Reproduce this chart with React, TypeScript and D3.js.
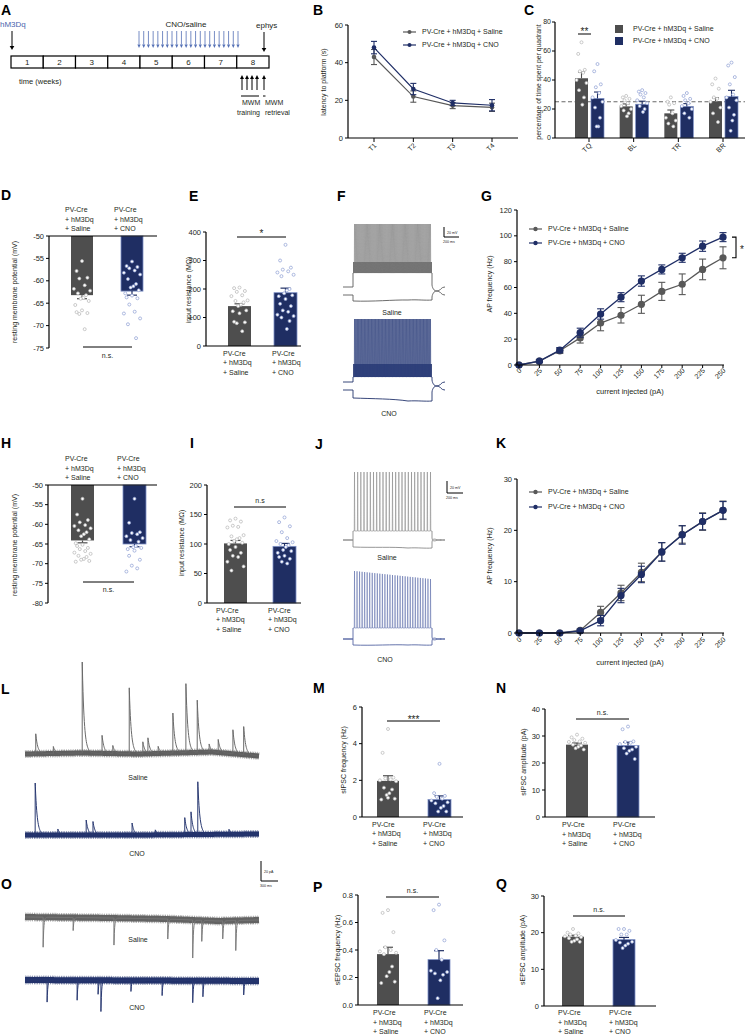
import React from 'react';
import * as d3 from 'd3';

const FONT = "'Liberation Sans', Arial, Helvetica, sans-serif";
const TXT = '#231f20';
const SAL = '#4e4e4e';
const CNO = '#1f2e63';
const CNO_EDGE = '#7d90c6';
const DOT_SAL = '#b4b4b4';
const DOT_CNO = '#8c9dd2';
const LINE_SAL = '#585858';
const LINE_CNO = '#1f2e66';

// ---------- A ----------
const weeks = ['1', '2', '3', '4', '5', '6', '7', '8'];
const cnoInjections = 22;
const trainingDays = 4;

// ---------- B ----------
const trials = ['T1', 'T2', 'T3', 'T4'];
const latencySaline = [43, 22, 17.2, 16.3];
const latencySalineErr = [4, 3, 1.6, 2.2];
const latencyCno = [48, 26, 18.6, 17.4];
const latencyCnoErr = [3.3, 3, 1.4, 3];
const latencyTicks = [0, 20, 40, 60];

// ---------- C ----------
const quadrants = ['TQ', 'BL', 'TR', 'BR'];
const quadSaline = [41.2, 21.8, 17, 25.3];
const quadSalineErr = [4.3, 1.7, 2.3, 2.4];
const quadCno = [27.3, 23.3, 21.8, 28.6];
const quadCnoErr = [4.4, 2.1, 1.9, 4.3];
const quadSalineDots = [
  [66, 58, 47, 46, 45, 40, 38, 33, 28, 23],
  [29, 28, 27, 26, 24, 22, 20, 19, 17, 15],
  [28, 25, 24, 23, 17, 14, 12, 10, 8],
  [41, 37, 34, 28, 27, 25, 21, 17, 11],
];
const quadCnoDots = [
  [51, 46, 37, 35, 31, 28, 25, 21, 14, 8, 8],
  [33, 32, 31, 30, 28, 26, 24, 22, 20, 18],
  [31, 29, 27, 26, 24, 22, 20, 17, 14],
  [52, 50, 42, 37, 30, 28, 26, 21, 16, 12, 5],
];
const quadTicks = [0, 20, 40, 60, 80];
const chanceLevel = 25;

const groupLabels = [
  ['PV-Cre', '+ hM3Dq', '+ Saline'],
  ['PV-Cre', '+ hM3Dq', '+ CNO'],
];
const legendSaline = 'PV-Cre + hM3Dq + Saline';
const legendCno = 'PV-Cre + hM3Dq + CNO';

// ---------- D ----------
const rmpD = [-63.2, -62.3];
const rmpDErr = [0.8, 0.9];
const rmpDSalineDots = [-55.6, -57.8, -59.3, -59.5, -61.0, -61.8, -62.2, -62.8, -63.2, -63.8, -64.0, -64.5, -65.4, -66.6, -67.0, -67.2, -67.4, -70.8];
const rmpDCnoDots = [-55.7, -56.7, -56.9, -57.2, -57.7, -58.2, -58.6, -59.6, -60.7, -61.2, -61.5, -62.1, -62.8, -63.3, -63.7, -63.9, -65.3, -66.9, -67.3, -68.4, -69.7, -72.8];
const rmpDTicks = [-50, -55, -60, -65, -70, -75];

// ---------- E ----------
const irE = [140, 187];
const irEErr = [8, 16];
const irESalineDots = [205, 203, 193, 190, 178, 175, 160, 158, 153, 145, 140, 125, 122, 115, 85, 83, 80, 52];
const irECnoDots = [355, 300, 275, 268, 262, 258, 250, 245, 200, 195, 185, 178, 175, 165, 148, 140, 125, 120, 110, 105, 100, 88, 60];
const irETicks = [0, 100, 200, 300, 400];

// ---------- G ----------
const currents = [0, 25, 50, 75, 100, 125, 150, 175, 200, 225, 250];
const apSalineG = [0, 3, 11, 21, 32.5, 38.5, 47, 57, 62.5, 74, 83];
const apSalineGErr = [0, 1, 2, 4, 6, 6, 7, 7, 8, 8, 8.5];
const apCnoG = [0, 3, 11.5, 25, 39.5, 52.5, 65, 74, 83, 92, 99];
const apCnoGErr = [0, 1, 2, 3.5, 4, 3.5, 4, 3.5, 3.5, 4, 3.5];
const apGTicks = [0, 20, 40, 60, 80, 100, 120];

// ---------- F / J spike counts ----------
const fSalineSpikes = 83;
const fCnoSpikes = 99;
const jSalineSpikes = 25;
const jCnoSpikes = 31;

// ---------- H ----------
const rmpH = [-64.1, -65.0];
const rmpHErr = [0.6, 0.7];
const rmpHSalineDots = [-53.5, -57.5, -58.9, -59.5, -60.2, -60.4, -61.0, -61.5, -62.0, -62.5, -63.0, -63.8, -64.8, -65.2, -65.5, -66.0, -66.3, -66.8, -67.2, -67.5, -68.0, -68.3, -68.8, -69.0, -69.3, -69.5];
const rmpHCnoDots = [-53.5, -59.6, -62.0, -62.2, -62.5, -63.0, -63.5, -64.0, -64.4, -65.5, -65.8, -66.0, -66.3, -66.7, -68.0, -69.0, -70.5, -71.2, -72.0];
const rmpHTicks = [-50, -55, -60, -65, -70, -75, -80];

// ---------- I ----------
const irI = [101, 96];
const irIErr = [5, 5];
const irISalineDots = [143, 140, 138, 131, 129, 128, 115, 113, 110, 108, 105, 102, 100, 95, 90, 85, 80, 78, 70, 62, 55];
const irICnoDots = [145, 137, 130, 120, 110, 105, 103, 100, 98, 95, 90, 88, 85, 80, 78, 75, 70, 67];
const irITicks = [0, 50, 100, 150, 200];

// ---------- K ----------
const apSalineK = [0, 0, 0, 0.5, 4, 7.8, 11.8, 15.8, 19.2, 21.7, 23.9];
const apSalineKErr = [0, 0, 0, 0.3, 1.2, 1.5, 1.8, 1.8, 1.7, 1.7, 1.8];
const apCnoK = [0, 0, 0, 0.4, 2.4, 7.3, 11.4, 15.8, 19.1, 21.7, 23.9];
const apCnoKErr = [0, 0, 0, 0.3, 1, 1.4, 1.6, 1.8, 1.8, 1.6, 1.7];
const apKTicks = [0, 10, 20, 30];

// ---------- L / O traces: [time (s), amplitude (pA)] ----------
const sweepSeconds = 4.13;
const lSalineEvents = [[0.19, 20], [0.5, 7], [1.01, 91], [1.36, 18], [1.55, 8], [1.84, 66], [2.08, 12], [2.17, 15], [2.35, 7], [2.61, 40], [2.84, 69], [3.04, 52], [3.25, 8], [3.41, 13], [3.67, 24], [3.86, 28]];
const lSalineDrift = [[0, 0], [1.0, 1], [2.0, 0], [3.3, 2], [4.13, -2]];
const lCnoEvents = [[0.18, 52], [0.58, 6], [1.08, 15], [1.2, 13], [1.89, 12], [2.3, 5], [2.82, 17], [2.93, 22], [3.05, 52], [3.6, 5]];
const lCnoDrift = [[0, 0], [2.0, 0], [4.13, 1]];
const oSalineEvents = [[0.32, 30], [0.85, 13], [1.57, 27], [2.52, 20], [2.96, 38], [3.12, 21], [3.49, 18], [3.72, 30]];
const oSalineDrift = [[0, 0], [1.5, 1], [2.5, 2], [3.4, 4], [4.13, 3]];
const oCnoEvents = [[0.39, 22], [0.92, 20], [1.29, 14], [1.34, 31], [1.87, 11], [2.42, 15], [2.96, 22], [3.14, 16], [3.86, 14]];
const oCnoDrift = [[0, 0], [4.13, 1]];

// ---------- M / N / P / Q ----------
const sipscFreq = [1.97, 0.95];
const sipscFreqErr = [0.28, 0.2];
const sipscFreqSalineDots = [4.8, 3.5, 2.15, 2.1, 2.05, 2.0, 1.95, 1.6, 1.5, 1.3, 1.2, 1.0, 0.95, 1.05];
const sipscFreqCnoDots = [2.9, 1.3, 1.15, 1.1, 1.0, 0.9, 0.8, 0.75, 0.6, 0.5, 0.3, 0.3];
const sipscFreqTicks = [0, 2, 4, 6];

const sipscAmp = [26.8, 26.5];
const sipscAmpErr = [0.6, 1.2];
const sipscAmpSalineDots = [30.5, 29.5, 29, 28.5, 28, 27.8, 27.5, 26.8, 26.5, 26, 25.5, 25];
const sipscAmpCnoDots = [33.5, 32.5, 28, 27.8, 27.5, 27, 26, 25.5, 25, 24.5, 23.5, 21.5];
const sipscAmpTicks = [0, 10, 20, 30, 40];

const sepscFreq = [0.37, 0.33];
const sepscFreqErr = [0.05, 0.065];
const sepscFreqSalineDots = [0.69, 0.67, 0.53, 0.42, 0.40, 0.39, 0.38, 0.37, 0.28, 0.24, 0.21, 0.17, 0.16];
const sepscFreqCnoDots = [0.73, 0.69, 0.47, 0.40, 0.33, 0.25, 0.24, 0.23, 0.22, 0.18, 0.05];
const sepscFreqTicks = [0, 0.2, 0.4, 0.6, 0.8];

const sepscAmp = [18.9, 18.1];
const sepscAmpErr = [0.4, 0.6];
const sepscAmpSalineDots = [21, 20, 19.8, 19.5, 19.2, 19, 18.8, 18.5, 18.2, 17.8, 17.5, 17.5];
const sepscAmpCnoDots = [21, 21, 20.5, 19.5, 19.5, 18, 17.5, 17.3, 17, 16.5, 15.8];
const sepscAmpTicks = [0, 10, 20, 30];

// ================= helpers =================
const JIT = [0, -0.6, 0.6, -0.3, 0.3, -0.9, 0.9, -0.45, 0.45, 0.15, -0.15, 0.75, -0.75];
const jitter = (i: number, spread: number) => JIT[i % JIT.length] * spread;

function Letter({ x, y, t }: { x: number; y: number; t: string }) {
  return <text x={x} y={y} fontSize={14} fontWeight="bold" fill="#000">{t}</text>;
}

function Arrow({ x, y1, y2, color, hw = 2.5, hl = 4, sw = 1 }: any) {
  const dir = Math.sign(y2 - y1);
  const yb = y2 - dir * hl;
  return (
    <g>
      <line x1={x} x2={x} y1={y1} y2={yb} stroke={color} strokeWidth={sw} />
      <path d={`M${x - hw},${yb} L${x + hw},${yb} L${x},${y2} Z`} fill={color} />
    </g>
  );
}

function YAxis({ x, scale, ticks, fmt, size = 7.5, gap = 5 }: any) {
  const r = scale.range();
  return (
    <g>
      <line x1={x} x2={x} y1={r[0]} y2={r[1]} stroke="#000" strokeWidth={1.2} />
      {ticks.map((t: number) => (
        <g key={t}>
          <line x1={x - 3} x2={x} y1={scale(t)} y2={scale(t)} stroke="#000" strokeWidth={1} />
          <text x={x - gap} y={scale(t)} dy="0.35em" textAnchor="end" fontSize={size} fill={TXT}>
            {fmt ? fmt(t) : String(t)}
          </text>
        </g>
      ))}
    </g>
  );
}

function VTitle({ x, y, text, size = 7 }: any) {
  return (
    <text transform={`translate(${x},${y}) rotate(-90)`} textAnchor="middle" fontSize={size} fill={TXT}>
      {text}
    </text>
  );
}

function GroupLabel({ x, y, lines }: any) {
  return (
    <g>
      {lines.map((l: string, i: number) => (
        <text key={i} x={x} y={y + i * 9.5} fontSize={7} fill={TXT}>{l}</text>
      ))}
    </g>
  );
}

function Dots({ cx, vals, scale, color, spread, r = 1.5 }: any) {
  return (
    <g>
      {vals.map((v: number, i: number) => (
        <circle key={i} cx={cx + jitter(i, spread)} cy={scale(v)} r={r} fill="#fff" stroke={color} strokeWidth={0.7} />
      ))}
    </g>
  );
}

function ErrBar({ x, y1, y2, color, cap = 4, sw = 1 }: any) {
  return (
    <g stroke={color} strokeWidth={sw}>
      <line x1={x} x2={x} y1={y1} y2={y2} />
      <line x1={x - cap} x2={x + cap} y1={y2} y2={y2} />
    </g>
  );
}

type BarPanelProps = {
  axisX: number; axisEnd: number; domain: [number, number]; range: [number, number]; ticks: number[];
  fmt?: (v: number) => string; hanging?: boolean; means: number[]; errs: number[]; dots: number[][];
  barX: [number, number][]; title: string; titleX: number; titleY: number;
  labelX: number[]; labelY: number; sig: { text: string; x1: number; x2: number; y: number; ty: number; size: number };
};

function BarPanel(p: BarPanelProps) {
  const y = d3.scaleLinear().domain(p.domain).range(p.range);
  const base = p.hanging ? p.domain[1] : p.domain[0];
  const fills = [SAL, CNO];
  const dotC = [DOT_SAL, DOT_CNO];
  return (
    <g>
      {p.means.map((m, i) => {
        const [x1, x2] = p.barX[i];
        const yTop = Math.min(y(base), y(m));
        const h = Math.abs(y(base) - y(m));
        const errEnd = p.hanging ? m - p.errs[i] : m + p.errs[i];
        return (
          <g key={i}>
            <rect x={x1} y={yTop} width={x2 - x1} height={h} fill={fills[i]} stroke={i === 1 ? CNO_EDGE : 'none'} strokeWidth={0.8} />
            <ErrBar x={(x1 + x2) / 2} y1={y(m)} y2={y(errEnd)} color={fills[i]} cap={5} sw={1.2} />
            <Dots cx={(x1 + x2) / 2} vals={p.dots[i]} scale={y} color={dotC[i]} spread={9} />
          </g>
        );
      })}
      <YAxis x={p.axisX} scale={y} ticks={p.ticks} fmt={p.fmt} />
      <line x1={p.axisX} x2={p.axisEnd} y1={y(base)} y2={y(base)} stroke="#000" strokeWidth={1.2} />
      <VTitle x={p.titleX} y={p.titleY} text={p.title} />
      {p.labelX.map((lx, i) => (
        <GroupLabel key={i} x={lx} y={p.labelY} lines={groupLabels[i]} />
      ))}
      <line x1={p.sig.x1} x2={p.sig.x2} y1={p.sig.y} y2={p.sig.y} stroke="#000" strokeWidth={1} />
      <text x={(p.sig.x1 + p.sig.x2) / 2} y={p.sig.ty} textAnchor="middle" fontSize={p.sig.size} fill={TXT}>{p.sig.text}</text>
    </g>
  );
}

function Legend({ x, y1, y2, r = 2.2 }: any) {
  return (
    <g fontSize={7} fill={TXT}>
      <line x1={x} x2={x + 13} y1={y1} y2={y1} stroke={LINE_SAL} strokeWidth={1.2} />
      <circle cx={x + 6.5} cy={y1} r={r} fill={LINE_SAL} />
      <text x={x + 19} y={y1} dy="0.35em">{legendSaline}</text>
      <line x1={x} x2={x + 13} y1={y2} y2={y2} stroke={LINE_CNO} strokeWidth={1.2} />
      <circle cx={x + 6.5} cy={y2} r={r} fill={LINE_CNO} />
      <text x={x + 19} y={y2} dy="0.35em">{legendCno}</text>
    </g>
  );
}

function Series({ xs, vals, errs, x, y, color, r, cap, sw = 1.3 }: any) {
  const pts = vals.map((v: number, i: number) => [x(xs[i]), y(v)]);
  return (
    <g>
      <path d={d3.line()(pts) || ''} fill="none" stroke={color} strokeWidth={sw} />
      {vals.map((v: number, i: number) =>
        errs[i] > 0 ? (
          <g key={i} stroke={color} strokeWidth={1.1}>
            <line x1={x(xs[i])} x2={x(xs[i])} y1={y(v - errs[i])} y2={y(v + errs[i])} />
            <line x1={x(xs[i]) - cap} x2={x(xs[i]) + cap} y1={y(v + errs[i])} y2={y(v + errs[i])} />
            <line x1={x(xs[i]) - cap} x2={x(xs[i]) + cap} y1={y(v - errs[i])} y2={y(v - errs[i])} />
          </g>
        ) : null
      )}
      {vals.map((v: number, i: number) => (
        <circle key={'c' + i} cx={x(xs[i])} cy={y(v)} r={r} fill={color} />
      ))}
    </g>
  );
}

function CurvePanel({ yDomain, yRange, yTicks, sal, salErr, cno, cnoErr, legendY, titleY, xTitleY, tickY }: any) {
  const x = d3.scaleLinear().domain([0, 250]).range([519, 723]);
  const y = d3.scaleLinear().domain(yDomain).range(yRange);
  const y0 = yRange[0];
  return (
    <g>
      <Series xs={currents} vals={sal} errs={salErr} x={x} y={y} color={LINE_SAL} r={3.6} cap={3.5} />
      <Series xs={currents} vals={cno} errs={cnoErr} x={x} y={y} color={LINE_CNO} r={3.6} cap={3.5} />
      <YAxis x={517} scale={y} ticks={yTicks} />
      <line x1={517} x2={724} y1={y0} y2={y0} stroke="#000" strokeWidth={1.2} />
      {currents.map((c: number) => (
        <g key={c}>
          <line x1={x(c)} x2={x(c)} y1={y0} y2={y0 + 3} stroke="#000" strokeWidth={1} />
          <text transform={`translate(${x(c) + 3},${tickY}) rotate(-45)`} textAnchor="end" fontSize={7} fill={TXT}>{c}</text>
        </g>
      ))}
      <text x={630} y={xTitleY} textAnchor="middle" fontSize={7.5} fill={TXT}>current injected (pA)</text>
      <VTitle x={492} y={titleY} text="AP frequency (Hz)" />
      <Legend x={529} y1={legendY[0]} y2={legendY[1]} r={2.2} />
    </g>
  );
}

// ---- step-current traces (F, J) ----
function StepTrace({ color, spikeColor, spikes, base1, base2, plateau, top, topEnd, bottom, bottomEnd, band, sw = 0.8 }: any) {
  const x0 = 343, s0 = 353, s1 = 432, x1 = 445;
  const sx = d3.scaleLinear().domain([0, spikes - 1]).range([s0 + 1.5, s1 - 1.5]);
  const tops = d3.scaleLinear().domain([0, spikes - 1]).range([top, topEnd ?? top]);
  let up = `M${s0},${plateau}`;
  for (let i = 0; i < spikes; i++) {
    up += ` H${sx(i) - 0.25} L${sx(i)},${tops(i)} L${sx(i) + 0.3},${plateau}`;
  }
  up += ` H${s1}`;
  const mid = (base1 + base2) / 2;
  const upperFrame = `M${x0},${base1} H${s0} V${plateau} M${s1},${plateau} V${base1 - 2} C${s1 + 0.5},${base1 + 2} ${s1 + 3},${mid + 1} ${s1 + 6},${mid} S${s1 + 9},${base1} ${x1},${base1}`;
  const be = bottomEnd ?? bottom;
  const down = `M${x0},${base2} H${s0} V${bottom} C${s0 + 20},${bottom + 0.8} ${s0 + 40},${(bottom + be) / 2 - 0.8} ${s0 + 55},${be} C${s0 + 65},${be - 0.6} ${s0 + 72},${be + 0.6} ${s1},${be} V${base2 + 2} C${s1 + 0.5},${base2 - 2} ${s1 + 3},${mid - 1} ${s1 + 6},${mid} S${s1 + 9},${base2} ${x1},${base2}`;
  return (
    <g fill="none">
      {band ? <rect x={s0} y={band[0]} width={s1 - s0} height={band[1] - band[0]} fill={color} opacity={0.85} /> : null}
      <path d={up} stroke={spikeColor} strokeWidth={sw} />
      <path d={upperFrame} stroke={color} strokeWidth={0.9} />
      <path d={down} stroke={color} strokeWidth={0.9} />
    </g>
  );
}

function ScaleBar({ x, y1, y2, x2, l1, l2, size = 3.6 }: any) {
  return (
    <g>
      <path d={`M${x},${y1} V${y2} H${x2}`} fill="none" stroke="#000" strokeWidth={1} />
      <text x={x + 3} y={(y1 + y2) / 2 + 1.5} fontSize={size} fill={TXT}>{l1}</text>
      <text x={x - 1} y={y2 + 5.5} fontSize={size} fill={TXT}>{l2}</text>
    </g>
  );
}

// ---- synaptic current traces (L, O) ----
const tScale = d3.scaleLinear().domain([0, sweepSeconds]).range([25, 259]);
function tracePath(y0: number, drift: number[][], events: number[][], dir: number, tau: number) {
  const dr = d3.scaleLinear().domain(drift.map(d => d[0])).range(drift.map(d => d[1]));
  const n = Math.round((tScale(sweepSeconds) - tScale(0)) * 3);
  const ts: number[] = [];
  for (let i = 0; i <= n; i++) ts.push((sweepSeconds * i) / n);
  events.forEach(e => { ts.push(e[0] - 0.0005); ts.push(e[0]); });
  ts.sort((a, b) => a - b);
  const pts: [number, number][] = ts.map(t => {
    let e = 0;
    for (const ev of events) if (t >= ev[0]) e += ev[1] * Math.exp(-(t - ev[0]) / tau);
    return [tScale(t), y0 - dir * (dr(t) + e)];
  });
  return d3.line()(pts) || '';
}

function SynTrace({ y0, drift, events, dir, tau, color, band, bandColor }: any) {
  const base = tracePath(y0, drift, [], dir, tau);
  return (
    <g fill="none">
      <path d={base} stroke={bandColor} strokeWidth={band} strokeLinecap="butt" />
      <path d={base} stroke={bandColor} strokeWidth={band + 3} strokeDasharray="0.5 1.3" opacity={0.75} />
      <path d={base} stroke={bandColor} strokeWidth={band + 1.5} strokeDasharray="0.7 0.9" strokeDashoffset={0.6} opacity={0.6} />
      <path d={tracePath(y0, drift, events, dir, tau)} stroke={color} strokeWidth={1} />
    </g>
  );
}

// ================= panels =================
function PanelA() {
  const x = d3.scaleBand().domain(weeks).range([11, 269]);
  const inj = d3.scaleLinear().domain([0, cnoInjections - 1]).range([139, 238]);
  const train = d3.scaleLinear().domain([0, trainingDays - 1]).range([242, 257]);
  const blue = '#5470b5';
  return (
    <g>
      <Letter x={1} y={15} t="A" />
      <text x={0} y={27} fontSize={8} fill="#4a64ad">hM3Dq</text>
      <Arrow x={12} y1={31} y2={50} color="#000" hw={2.3} hl={4} />
      <text x={186} y={27} fontSize={8} textAnchor="middle" fill={TXT}>CNO/saline</text>
      {d3.range(cnoInjections).map(i => (
        <Arrow key={i} x={inj(i)} y1={31} y2={48} color={blue} hw={1.6} hl={3.5} sw={0.8} />
      ))}
      <text x={256} y={28} fontSize={8} fill={TXT}>ephys</text>
      <Arrow x={264} y1={32} y2={52} color="#000" hw={2.3} hl={4} />
      {weeks.map(w => (
        <g key={w}>
          <rect x={x(w)} y={56} width={x.bandwidth()} height={12} fill="#fff" stroke="#000" strokeWidth={1.2} />
          <text x={(x(w) as number) + x.bandwidth() / 2} y={65} fontSize={8} textAnchor="middle" fill={TXT}>{w}</text>
        </g>
      ))}
      <text x={19} y={84} fontSize={7.5} fill={TXT}>time (weeks)</text>
      {d3.range(trainingDays).map(i => (
        <Arrow key={i} x={train(i)} y1={90} y2={75} color="#000" hw={2} hl={4} sw={1} />
      ))}
      <Arrow x={264} y1={90} y2={75} color="#000" hw={2} hl={4} sw={1} />
      <line x1={241} x2={259} y1={96} y2={96} stroke="#000" strokeWidth={1} />
      <line x1={263} x2={265.5} y1={96} y2={96} stroke="#000" strokeWidth={1} />
      <text x={242} y={105} fontSize={7} fill={TXT}>MWM</text>
      <text x={237} y={115} fontSize={7} fill={TXT}>training</text>
      <text x={265} y={105} fontSize={7} fill={TXT}>MWM</text>
      <text x={265} y={115} fontSize={7} fill={TXT}>retrieval</text>
    </g>
  );
}

function PanelB() {
  const x = d3.scalePoint().domain(trials).range([374, 492]);
  const y = d3.scaleLinear().domain([0, 60]).range([138, 25]);
  return (
    <g>
      <Letter x={313} y={15} t="B" />
      <Series xs={trials} vals={latencySaline} errs={latencySalineErr} x={x} y={y} color={LINE_SAL} r={2.3} cap={3} sw={1.2} />
      <Series xs={trials} vals={latencyCno} errs={latencyCnoErr} x={x} y={y} color={LINE_CNO} r={2.3} cap={3} sw={1.2} />
      <YAxis x={348} scale={y} ticks={latencyTicks} />
      <line x1={348} x2={518} y1={138} y2={138} stroke="#000" strokeWidth={1.2} />
      {trials.map(t => (
        <g key={t}>
          <line x1={x(t)} x2={x(t)} y1={138} y2={142} stroke="#000" strokeWidth={1} />
          <text transform={`translate(${(x(t) as number) + 3},${146}) rotate(-45)`} textAnchor="end" fontSize={7} fill={TXT}>{t}</text>
        </g>
      ))}
      <VTitle x={326} y={82} text="latency to platform (s)" />
      <Legend x={403} y1={32} y2={45} r={2} />
    </g>
  );
}

function PanelC() {
  const x = d3.scalePoint().domain(quadrants).range([589, 723]);
  const y = d3.scaleLinear().domain([0, 80]).range([138, 22]);
  return (
    <g>
      <Letter x={524} y={15} t="C" />
      <line x1={555} x2={745} y1={y(chanceLevel)} y2={y(chanceLevel)} stroke="#555" strokeWidth={0.9} strokeDasharray="4,2.5" />
      {quadrants.map((q, i) => {
        const c = x(q) as number;
        return (
          <g key={q}>
            <rect x={c - 14} y={y(quadSaline[i])} width={13} height={138 - y(quadSaline[i])} fill={SAL} />
            <rect x={c + 2} y={y(quadCno[i])} width={13} height={138 - y(quadCno[i])} fill={CNO} stroke={CNO_EDGE} strokeWidth={0.7} />
            <ErrBar x={c - 7.5} y1={y(quadSaline[i])} y2={y(quadSaline[i] + quadSalineErr[i])} color={SAL} cap={3.5} sw={1.1} />
            <ErrBar x={c + 8.5} y1={y(quadCno[i])} y2={y(quadCno[i] + quadCnoErr[i])} color={CNO} cap={3.5} sw={1.1} />
            <Dots cx={c - 7.5} vals={quadSalineDots[i]} scale={y} color={DOT_SAL} spread={5.5} r={1.5} />
            <Dots cx={c + 8.5} vals={quadCnoDots[i]} scale={y} color={DOT_CNO} spread={5.5} r={1.5} />
            <line x1={c} x2={c} y1={138} y2={142} stroke="#000" strokeWidth={1} />
            <text transform={`translate(${c + 3},${146}) rotate(-45)`} textAnchor="end" fontSize={7} fill={TXT}>{q}</text>
          </g>
        );
      })}
      <YAxis x={555} scale={y} ticks={quadTicks} size={7} gap={4} />
      <line x1={555} x2={745} y1={138} y2={138} stroke="#000" strokeWidth={1.2} />
      <VTitle x={541} y={82} text="percentage of time spent per quadrant" size={6.8} />
      <line x1={578} x2={591} y1={34} y2={34} stroke="#000" strokeWidth={1} />
      <text x={584.5} y={35} textAnchor="middle" fontSize={10} fill={TXT}>**</text>
      <rect x={615} y={25} width={8} height={8} fill={SAL} />
      <rect x={615} y={37} width={8} height={8} fill={CNO} />
      <text x={633} y={29} dy="0.35em" fontSize={7} fill={TXT}>{legendSaline}</text>
      <text x={633} y={41} dy="0.35em" fontSize={7} fill={TXT}>{legendCno}</text>
    </g>
  );
}

function PanelD() {
  return (
    <g>
      <Letter x={1} y={200} t="D" />
      <GroupLabel x={65} y={212} lines={groupLabels[0]} />
      <GroupLabel x={114} y={212} lines={groupLabels[1]} />
      <BarPanel axisX={49} axisEnd={157} domain={[-75, -50]} range={[348, 236]} ticks={rmpDTicks} hanging
        means={rmpD} errs={rmpDErr} dots={[rmpDSalineDots, rmpDCnoDots]} barX={[[71, 93], [121, 143]]}
        title="resting membrane potential (mV)" titleX={17} titleY={292} labelX={[]} labelY={0}
        sig={{ text: 'n.s.', x1: 83, x2: 132, y: 347, ty: 358, size: 7 }} />
    </g>
  );
}

function PanelE() {
  return (
    <g>
      <Letter x={189} y={201} t="E" />
      <BarPanel axisX={206} axisEnd={301} domain={[0, 400]} range={[346, 232]} ticks={irETicks}
        means={irE} errs={irEErr} dots={[irESalineDots, irECnoDots]} barX={[[228, 251], [274, 297]]}
        title="input resistance (MΩ)" titleX={191} titleY={290} labelX={[223, 272]} labelY={355.5}
        sig={{ text: '*', x1: 237, x2: 286, y: 237, ty: 237, size: 10 }} />
    </g>
  );
}

function PanelF() {
  return (
    <g>
      <Letter x={337} y={201} t="F" />
      <StepTrace color="#5c5c5c" spikeColor="#777777" spikes={fSalineSpikes} base1={287} base2={295} plateau={273} top={224}
        bottom={301} bottomEnd={300} band={[262, 273]} sw={0.45} />
      <ScaleBar x={444} y1={227} y2={237} x2={459} l1="20 mV" l2="200 ms" />
      <text x={392} y={315} textAnchor="middle" fontSize={7} fill={TXT}>Saline</text>
      <StepTrace color="#22336c" spikeColor="#2b3c78" spikes={fCnoSpikes} base1={382} base2={390} plateau={377} top={319}
        bottom={398} bottomEnd={401} band={[364, 377]} sw={0.5} />
      <text x={389} y={416} textAnchor="middle" fontSize={7} fill={TXT}>CNO</text>
    </g>
  );
}

function PanelG() {
  const y = d3.scaleLinear().domain([0, 120]).range([365, 210]);
  return (
    <g>
      <Letter x={481} y={201} t="G" />
      <CurvePanel yDomain={[0, 120]} yRange={[365, 210]} yTicks={apGTicks} sal={apSalineG} salErr={apSalineGErr}
        cno={apCnoG} cnoErr={apCnoGErr} legendY={[229, 243]} titleY={284} xTitleY={394} tickY={371} />
      <path d={`M732,${y(apCnoG[10])} H736 V${y(apSalineG[10])} H732`} fill="none" stroke="#000" strokeWidth={1.1} />
      <text x={740} y={253} fontSize={10} fill={TXT}>*</text>
    </g>
  );
}

function PanelH() {
  return (
    <g>
      <Letter x={1} y={448} t="H" />
      <GroupLabel x={65} y={461} lines={groupLabels[0]} />
      <GroupLabel x={117} y={461} lines={groupLabels[1]} />
      <BarPanel axisX={48} axisEnd={157} domain={[-80, -50]} range={[603, 485]} ticks={rmpHTicks} hanging
        means={rmpH} errs={rmpHErr} dots={[rmpHSalineDots, rmpHCnoDots]} barX={[[71, 94], [123, 146]]}
        title="resting membrane potential (mV)" titleX={17} titleY={545} labelX={[]} labelY={0}
        sig={{ text: 'n.s.', x1: 83, x2: 134, y: 582, ty: 592, size: 7 }} />
    </g>
  );
}

function PanelI() {
  return (
    <g>
      <Letter x={190} y={448} t="I" />
      <BarPanel axisX={207} axisEnd={301} domain={[0, 200]} range={[603, 485]} ticks={irITicks}
        means={irI} errs={irIErr} dots={[irISalineDots, irICnoDots]} barX={[[224, 247], [273, 296]]}
        title="input resistance (MΩ)" titleX={184} titleY={543} labelX={[216, 268]} labelY={612.5}
        sig={{ text: 'n.s', x1: 234, x2: 286, y: 507, ty: 503, size: 7 }} />
    </g>
  );
}

function PanelJ() {
  return (
    <g>
      <Letter x={315} y={449} t="J" />
      <StepTrace color="#8a8a8a" spikeColor="#8a8a8a" spikes={jSalineSpikes} base1={540} base2={540} plateau={531} top={472}
        bottom={547} bottomEnd={548} sw={0.6} />
      <ScaleBar x={447} y1={481} y2={493} x2={463} l1="20 mV" l2="200 ms" />
      <text x={387} y={560} textAnchor="middle" fontSize={7} fill={TXT}>Saline</text>
      <StepTrace color="#5565a3" spikeColor="#5a6aa8" spikes={jCnoSpikes} base1={639} base2={639} plateau={628} top={571} topEnd={579}
        bottom={645} bottomEnd={645} sw={0.55} />
      <text x={385} y={662} textAnchor="middle" fontSize={7} fill={TXT}>CNO</text>
    </g>
  );
}

function PanelK() {
  return (
    <g>
      <Letter x={496} y={448} t="K" />
      <CurvePanel yDomain={[0, 30]} yRange={[633, 479]} yTicks={apKTicks} sal={apSalineK} salErr={apSalineKErr}
        cno={apCnoK} cnoErr={apCnoKErr} legendY={[492, 507]} titleY={556} xTitleY={665} tickY={640} />
    </g>
  );
}

function PanelL() {
  return (
    <g>
      <Letter x={1} y={694} t="L" />
      <SynTrace y0={754} drift={lSalineDrift} events={lSalineEvents} dir={1} tau={0.035} color="#6a6a6a" band={5} bandColor="#606060" />
      <text x={138} y={780} textAnchor="middle" fontSize={7} fill={TXT}>Saline</text>
      <SynTrace y0={835} drift={lCnoDrift} events={lCnoEvents} dir={1} tau={0.035} color="#2a3a72" band={5} bandColor="#24346c" />
      <text x={137} y={856} textAnchor="middle" fontSize={7} fill={TXT}>CNO</text>
      <ScaleBar x={261} y1={861} y2={881} x2={278} l1="20 pA" l2="300 ms" />
    </g>
  );
}

function PanelO() {
  return (
    <g>
      <Letter x={1} y={889} t="O" />
      <SynTrace y0={917} drift={oSalineDrift} events={oSalineEvents} dir={-1} tau={0.012} color="#7a7a7a" band={6} bandColor="#646464" />
      <text x={138} y={942} textAnchor="middle" fontSize={7} fill={TXT}>Saline</text>
      <SynTrace y0={980} drift={oCnoDrift} events={oCnoEvents} dir={-1} tau={0.012} color="#2a3a72" band={6} bandColor="#24346c" />
      <text x={137} y={1010} textAnchor="middle" fontSize={7} fill={TXT}>CNO</text>
    </g>
  );
}

function PanelM() {
  return (
    <g>
      <Letter x={313} y={693} t="M" />
      <BarPanel axisX={362} axisEnd={463} domain={[0, 6]} range={[817, 707]} ticks={sipscFreqTicks}
        means={sipscFreq} errs={sipscFreqErr} dots={[sipscFreqSalineDots, sipscFreqCnoDots]} barX={[[377, 399], [428, 451]]}
        title="sIPSC frequency (Hz)" titleX={346} titleY={760} labelX={[372, 423]} labelY={826.5}
        sig={{ text: '***', x1: 387, x2: 440, y: 721, ty: 723, size: 10 }} />
    </g>
  );
}

function PanelN() {
  return (
    <g>
      <Letter x={496} y={693} t="N" />
      <BarPanel axisX={545} axisEnd={655} domain={[0, 40]} range={[817, 709]} ticks={sipscAmpTicks}
        means={sipscAmp} errs={sipscAmpErr} dots={[sipscAmpSalineDots, sipscAmpCnoDots]} barX={[[566, 588], [617, 639]]}
        title="sIPSC amplitude (pA)" titleX={526} titleY={762} labelX={[562, 613]} labelY={827}
        sig={{ text: 'n.s.', x1: 576, x2: 629, y: 719, ty: 715, size: 7 }} />
    </g>
  );
}

function PanelP() {
  return (
    <g>
      <Letter x={313} y={892} t="P" />
      <BarPanel axisX={358} axisEnd={463} domain={[0, 0.8]} range={[1005, 895]} ticks={sepscFreqTicks} fmt={d3.format('.1f')}
        means={sepscFreq} errs={sepscFreqErr} dots={[sepscFreqSalineDots, sepscFreqCnoDots]} barX={[[377, 399], [428, 450]]}
        title="sEPSC frequency (Hz)" titleX={340} titleY={950} labelX={[373, 424]} labelY={1015}
        sig={{ text: 'n.s.', x1: 386, x2: 439, y: 897, ty: 893, size: 7 }} />
    </g>
  );
}

function PanelQ() {
  return (
    <g>
      <Letter x={496} y={889} t="Q" />
      <BarPanel axisX={544} axisEnd={656} domain={[0, 30]} range={[1006, 896]} ticks={sepscAmpTicks}
        means={sepscAmp} errs={sepscAmpErr} dots={[sepscAmpSalineDots, sepscAmpCnoDots]} barX={[[562, 584], [613, 635]]}
        title="sEPSC amplitude (pA)" titleX={525} titleY={950} labelX={[558, 609]} labelY={1015}
        sig={{ text: 'n.s.', x1: 573, x2: 625, y: 916, ty: 912, size: 7 }} />
    </g>
  );
}

export default function App() {
  return (
    <svg width={747} height={1035} viewBox="0 0 747 1035" fontFamily={FONT}
      style={{ position: 'absolute', left: 0, top: 0, background: '#fff' }}>
      <rect width={747} height={1035} fill="#fff" />
      <PanelA />
      <PanelB />
      <PanelC />
      <PanelD />
      <PanelE />
      <PanelF />
      <PanelG />
      <PanelH />
      <PanelI />
      <PanelJ />
      <PanelK />
      <PanelL />
      <PanelM />
      <PanelN />
      <PanelO />
      <PanelP />
      <PanelQ />
    </svg>
  );
}
